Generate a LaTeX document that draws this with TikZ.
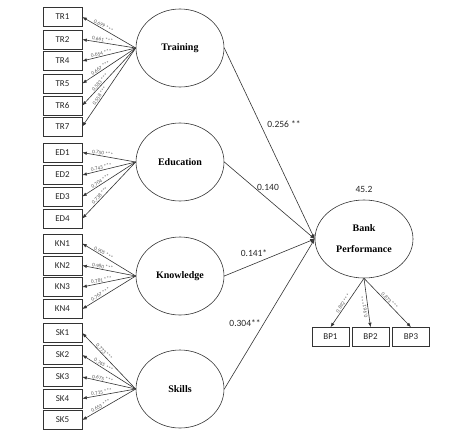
\documentclass[tikz,border=0pt]{standalone}
\usepackage{fontspec}
\setmainfont{Carlito}
\newfontfamily\serifb{Liberation Serif}
\usetikzlibrary{arrows.meta,shapes.geometric}
\begin{document}
\begin{tikzpicture}[x=1pt,y=-1pt,
 ind/.style={draw=black!80, line width=0.6pt, minimum width=39pt, minimum height=19pt, inner sep=0pt, font=\fontsize{9}{10}\selectfont, text=black!85},
 lat/.style={draw=black!80, line width=0.6pt, ellipse, minimum width=88pt, minimum height=78pt, inner sep=0pt, font=\serifb\bfseries\fontsize{10}{12}\selectfont},
 ld/.style={draw=black!80, line width=0.6pt, -{Latex[length=4.5pt,width=3.5pt]}},
 lab/.style={font=\fontsize{5.3}{6}\selectfont, text=black!65, sloped, above, inner sep=0.8pt},
 coef/.style={font=\fontsize{9.5}{11}\selectfont, text=black!85, inner sep=0pt}
]
\useasboundingbox (0,0) rectangle (474,429);

% latent variables
\node[lat] (train) at (180,48) {Training};
\node[lat] (edu) at (180,162) {Education};
\node[lat] (know) at (180,276) {Knowledge};
\node[lat] (skill) at (180,389) {Skills};
\node[lat, minimum width=98pt, align=center, font=\serifb\bfseries\fontsize{10}{21}\selectfont] (bp) at (364,239) {Bank\\Performance};

% indicators
\foreach \n/\y/\v in {TR1/17/0.699, TR2/39.5/0.661, TR4/61/0.654, TR5/83.5/0.667, TR6/105.5/0.583, TR7/126.5/0.558}{
  \node[ind] (\n) at (62.5,\y) {\n};
  \draw[ld] (train.west) -- node[lab,pos=0.63]{\v\ ***} (\n.east);
}
\foreach \n/\y/\v in {ED1/152.5/0.750, ED2/175/0.743, ED3/196.5/0.704, ED4/218.5/0.738}{
  \node[ind] (\n) at (62.5,\y) {\n};
  \draw[ld] (edu.west) -- node[lab,pos=0.63]{\v\ ***} (\n.east);
}
\foreach \n/\y/\v in {KN1/243.5/0.905, KN2/265.5/0.980, KN3/287/0.781, KN4/309/0.767}{
  \node[ind] (\n) at (62.5,\y) {\n};
  \draw[ld] (know.west) -- node[lab,pos=0.63]{\v\ ***} (\n.east);
}
\foreach \n/\y/\v in {SK1/333/0.773, SK2/355/0.765, SK3/377/0.675, SK4/398.5/0.715, SK5/420/0.653}{
  \node[ind] (\n) at (62.5,\y) {\n};
  \draw[ld] (skill.west) -- node[lab,pos=0.63]{\v\ ***} (\n.east);
}

% structural paths
\draw[ld] (train.east) -- (bp.west);
\draw[ld] (edu.east) -- (bp.west);
\draw[ld] (know.east) -- (bp.west);
\draw[ld] (skill.east) -- (bp.west);
\node[coef] (c1) at (284,124) {0.256 **};
\node[coef] (c2) at (268,187) {0.140};
\node[coef] (c3) at (254,253) {0.141*};
\node[coef] (c4) at (245,323) {0.304**};
\node[coef] (r2) at (364,189) {45.2};

% BP indicators
\node[ind, minimum width=37pt] (BP1) at (330.5,337) {BP1};
\node[ind, minimum width=37pt] (BP2) at (370.5,337) {BP2};
\node[ind, minimum width=37pt] (BP3) at (411,337) {BP3};
\draw[ld] (bp.south) -- node[lab,pos=0.55]{0.892 ***} (BP1.north);
\draw[ld] (bp.south) -- (BP2.north);
\node[font=\fontsize{5.3}{6}\selectfont, text=black!65, rotate=97, inner sep=0pt] (l2) at (364.5,307) {0.961 ***};
\draw[ld] (bp.south) -- node[lab,pos=0.5]{0.873 ***} (BP3.north);
\end{tikzpicture}
\end{document}
